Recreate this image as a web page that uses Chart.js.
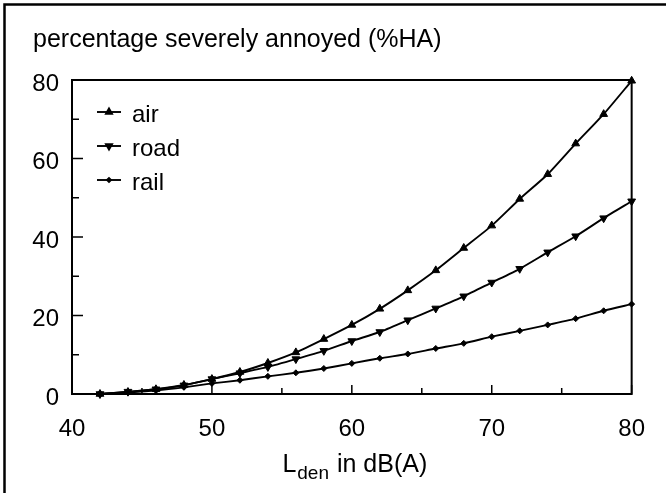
<!DOCTYPE html>
<html>
<head>
<meta charset="utf-8">
<script src="https://cdn.jsdelivr.net/npm/chart.js@4.4.0/dist/chart.umd.min.js"></script>
<style>
  html, body { margin: 0; padding: 0; background: #fff; }
  #wrap { position: relative; width: 666px; height: 493px; }
</style>
</head>
<body>
<div id="wrap"><canvas id="mycanvas" width="666" height="493"></canvas></div>
<script>
// L_den values (dB(A)) and %HA per source
var lden = [42, 44, 46, 48, 50, 52, 54, 56, 58, 60, 62, 64, 66, 68, 70, 72, 74, 76, 78, 80];
var airHA = [0, 0.5, 1.2, 2.3, 3.8, 5.6, 7.9, 10.6, 14.0, 17.6, 21.7, 26.4, 31.5, 37.2, 42.9, 49.7, 56.0, 63.8, 71.3, 79.8];
var roadHA = [0, 0.6, 1.2, 2.2, 3.8, 5.3, 6.9, 8.9, 11.0, 13.5, 15.8, 18.8, 21.8, 24.9, 28.4, 31.9, 36.1, 40.2, 44.8, 49.1];
var railHA = [0, 0.4, 0.9, 1.7, 2.7, 3.5, 4.5, 5.4, 6.5, 7.8, 9.1, 10.2, 11.6, 12.9, 14.6, 16.1, 17.6, 19.2, 21.2, 22.9];

var xTicks = [40, 50, 60, 70, 80];
var yTicks = [0, 20, 40, 60, 80];
var seriesNames = ['air', 'road', 'rail'];
var titleText = 'percentage severely annoyed (%HA)';

var FONT = "'Liberation Sans', Arial, Helvetica, sans-serif";

function pts(ys) {
	var out = [];
	for (var i in lden) {
		out.push({ x: lden[i], y: ys[i] });
	}
	return out;
}

function ds(label, ys, style, rot, r) {
	return {
		label: label,
		data: pts(ys),
		borderColor: '#000',
		backgroundColor: '#000',
		borderWidth: 1.9,
		pointStyle: style,
		rotation: rot,
		pointRadius: r,
		pointBorderWidth: 1,
		tension: 0.2,
		clip: false
	};
}

var chartdata = {
	datasets: [
		ds(seriesNames[0], airHA, 'triangle', 0, 4.5),
		ds(seriesNames[1], roadHA, 'triangle', 180, 4.5),
		ds(seriesNames[2], railHA, 'rectRot', 0, 3)
	]
};

var decor = {
	id: 'decor',
	afterDraw: function(chart) {
		var ctx = chart.ctx;
		var a = chart.chartArea;
		var xs = chart.scales.x, ys = chart.scales.y;
		ctx.save();
		ctx.strokeStyle = '#000';
		ctx.fillStyle = '#000';

		// outer frame (top + left only visible)
		ctx.lineWidth = 2.5;
		ctx.beginPath();
		ctx.moveTo(4.5, 493);
		ctx.lineTo(4.5, 4.5);
		ctx.lineTo(666, 4.5);
		ctx.stroke();

		// plot box
		ctx.lineWidth = 2;
		ctx.strokeRect(a.left, a.top, a.right - a.left, a.bottom - a.top);

		// inward ticks
		ctx.lineWidth = 1.5;
		ctx.beginPath();
		for (var v = 40; v <= 80; v += 5) {
			var px = xs.getPixelForValue(v);
			var len = (v % 10 === 0) ? 9 : 6;
			ctx.moveTo(px, a.bottom);
			ctx.lineTo(px, a.bottom - len);
		}
		for (var w = 0; w <= 80; w += 10) {
			var py = ys.getPixelForValue(w);
			var l2 = (w % 20 === 0) ? 11 : 7;
			ctx.moveTo(a.left, py);
			ctx.lineTo(a.left + l2, py);
		}
		ctx.stroke();

		// title
		ctx.font = '25px ' + FONT;
		ctx.textBaseline = 'alphabetic';
		ctx.textAlign = 'left';
		ctx.fillText(titleText, 33, 47);

		// x axis title with subscript
		var big = '25px ' + FONT, small = '19px ' + FONT;
		ctx.font = big;
		var wL = ctx.measureText('L').width;
		var wRest = ctx.measureText(' in dB(A)').width;
		ctx.font = small;
		var wSub = ctx.measureText('den').width;
		var x0 = (a.left + a.right) / 2 - (wL + wSub + wRest) / 2 + 2;
		var base = 472;
		ctx.font = big;
		ctx.fillText('L', x0, base);
		ctx.font = small;
		ctx.fillText('den', x0 + wL + 1, base + 7);
		ctx.font = big;
		ctx.fillText(' in dB(A)', x0 + wL + wSub + 2, base);

		// legend inside the plot
		var rows = [112, 146, 180];
		ctx.font = '24px ' + FONT;
		for (var k = 0; k < 3; k++) {
			var d = chart.data.datasets[k];
			var y = rows[k];
			ctx.lineWidth = 1.9;
			ctx.beginPath();
			ctx.moveTo(97, y);
			ctx.lineTo(121, y);
			ctx.stroke();
			Chart.helpers.drawPoint(ctx, {
				pointStyle: d.pointStyle,
				rotation: d.rotation,
				radius: d.pointRadius - 1,
				borderWidth: 1
			}, 109, y);
			ctx.fillText(seriesNames[k], 132, y + 10);
		}
		ctx.restore();
	}
};

var ctx = document.getElementById('mycanvas');

var lineGraph = new Chart(ctx, {
	type: 'line',
	data: chartdata,
	plugins: [decor],
	options: {
		responsive: false,
		animation: false,
		layout: { padding: { left: 8, right: 27, top: 80, bottom: 0 } },
		plugins: {
			legend: { display: false },
			tooltip: { enabled: false }
		},
		scales: {
			x: {
				type: 'linear',
				min: 40,
				max: 80,
				afterBuildTicks: function(s) { s.ticks = xTicks.map(function(v) { return { value: v }; }); },
				afterFit: function(s) { s.height = 99; },
				grid: { display: false, drawTicks: false },
				border: { display: false },
				ticks: { color: '#000', font: { family: FONT, size: 24 }, padding: 21, maxRotation: 0 }
			},
			y: {
				min: 0,
				max: 80,
				afterBuildTicks: function(s) { s.ticks = yTicks.map(function(v) { return { value: v }; }); },
				afterFit: function(s) { s.width = 64; },
				grid: { display: false, drawTicks: false },
				border: { display: false },
				ticks: { color: '#000', font: { family: FONT, size: 24 }, padding: 13, labelOffset: 4 }
			}
		}
	}
});
</script>
</body>
</html>
